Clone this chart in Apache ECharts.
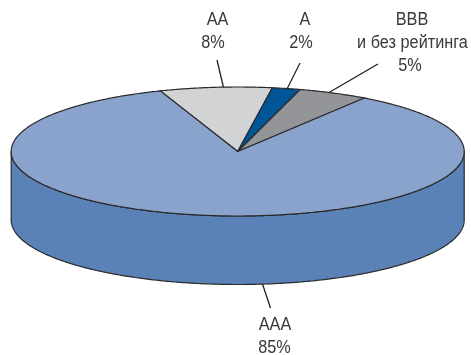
<!DOCTYPE html>
<html>
<head>
<meta charset="utf-8">
<style>html,body{margin:0;padding:0;background:#fff}#chart{width:471px;height:355px}</style>
<script src="https://cdn.jsdelivr.net/npm/echarts@6/dist/echarts.min.js"></script>
</head>
<body>
<div id="chart"></div>
<script>
// Portfolio split by credit rating, percent
const ratings = ['AA', 'A', 'BBB', 'AAA'];
const shares = [8, 2, 5, 85];
const captions = [['AA'], ['A'], ['BBB', 'и без рейтинга'], ['AAA']];

const topColors = ['#d1d3d4', '#005596', '#939598', '#8aa3cc'];
const sideColors = ['#b5b7b9', '#00457a', '#77797b', '#5b82b6'];

// Disc geometry in pixels
const disc = { cx: 237.7, cy: 151.5, rx: 226.5, ry: 64.5, depth: 68.5, startAngle: 110 };
const edge = { color: '#2b2a2c', width: 1.2 };

// Label anchors (one x per text line) and leader lines for each rating
const labelLayout = [
  { xs: [217.5, 213], y: 20, leader: [[217, 60], [223.5, 87.5]] },
  { xs: [305, 301], y: 20, leader: [[300, 63], [287, 89]] },
  { xs: [412, 412.5, 410], y: 20, leader: [[378, 64], [329, 92.5]] },
  { xs: [275, 274.5], y: 325, leader: [[262.5, 284], [270.5, 308]] }
];
const lineHeight = 23.3;

const total = shares.reduce((a, b) => a + b, 0);
const sliceAngles = [];
shares.reduce((from, v) => {
  const to = from - v / total * 360;
  sliceAngles.push([from, to]);
  return to;
}, disc.startAngle);

function rim(deg, drop) {
  const r = deg * Math.PI / 180;
  return [disc.cx + disc.rx * Math.cos(r), disc.cy - disc.ry * Math.sin(r) + (drop || 0)];
}
function arc(from, to, drop) {
  const steps = Math.max(2, Math.ceil(Math.abs(from - to) * 2));
  const pts = [];
  for (let i = 0; i <= steps; i++) pts.push(rim(from + (to - from) * i / steps, drop));
  return pts;
}

function renderSide(params) {
  const i = params.dataIndex;
  const from = Math.min(sliceAngles[i][0], 0);
  const to = Math.max(sliceAngles[i][1], -180);
  if (from <= to) return { type: 'group', children: [] };
  const points = arc(from, to, 0).concat(arc(to, from, disc.depth));
  return {
    type: 'polygon',
    shape: { points },
    style: { fill: sideColors[i], stroke: edge.color, lineWidth: edge.width, lineJoin: 'round' }
  };
}

function renderTop(params) {
  const i = params.dataIndex;
  const points = [[disc.cx, disc.cy]].concat(arc(sliceAngles[i][0], sliceAngles[i][1], 0));
  return {
    type: 'polygon',
    shape: { points },
    style: { fill: topColors[i], stroke: edge.color, lineWidth: edge.width, lineJoin: 'miter' }
  };
}

const seriesData = ratings.map((name, i) => ({ name, value: shares[i] }));

// Rating captions with their share, slightly condensed, plus leader lines
const graphics = [];
ratings.forEach((name, i) => {
  const place = labelLayout[i];
  captions[i].concat(shares[i] + '%').forEach((line, n) => {
    graphics.push({
      type: 'text',
      x: place.xs[n],
      y: place.y + n * lineHeight,
      scaleX: 0.93,
      silent: true,
      style: {
        text: line,
        fontSize: 17.5,
        fontFamily: '"Liberation Sans", Arial, sans-serif',
        fill: '#3a3a3c',
        align: 'center',
        verticalAlign: 'middle'
      }
    });
  });
  graphics.push({
    type: 'polyline',
    silent: true,
    shape: { points: place.leader },
    style: { stroke: '#231f20', lineWidth: 1.3, fill: null }
  });
});

const chart = echarts.init(document.getElementById('chart'), null, { renderer: 'canvas' });
chart.setOption({
  animation: false,
  backgroundColor: '#ffffff',
  graphic: { elements: graphics },
  series: [
    { type: 'custom', coordinateSystem: 'none', silent: true, data: seriesData, renderItem: renderSide },
    { type: 'custom', coordinateSystem: 'none', silent: true, data: seriesData, renderItem: renderTop }
  ]
});
</script>
</body>
</html>
